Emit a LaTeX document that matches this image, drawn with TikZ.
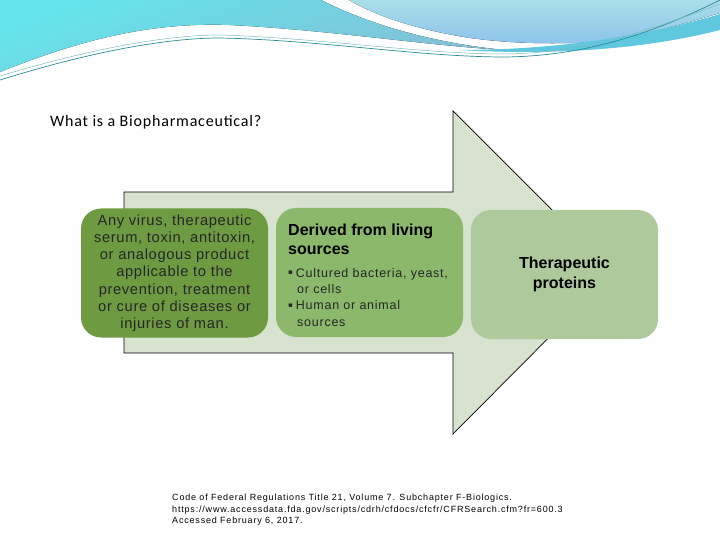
\documentclass[tikz,border=0pt]{standalone}
\usepackage{fontspec}
\setmainfont{Liberation Sans}
\newfontfamily\titlefont[LetterSpace=5]{Carlito}
\newfontfamily\reffont[LetterSpace=9]{Liberation Sans}
\newfontfamily\boxfont[LetterSpace=4.5]{Liberation Sans}
\newfontfamily\bulfont[LetterSpace=6]{Liberation Sans}
\newfontfamily\symfont{DejaVu Sans}
\definecolor{arrowfill}{RGB}{215,227,207}
\definecolor{boxA}{RGB}{110,154,66}
\definecolor{boxB}{RGB}{140,184,108}
\definecolor{boxC}{RGB}{174,202,156}
\definecolor{skyA}{RGB}{132,190,212}
\definecolor{skyB}{RGB}{100,228,236}
\definecolor{skyC}{RGB}{170,222,232}
\definecolor{skyD}{RGB}{140,196,236}
\definecolor{skyE}{RGB}{95,200,222}
\definecolor{wline}{RGB}{40,140,150}
\tikzset{
  gbox/.style={rounded corners=20pt, minimum width=187pt, minimum height=129pt, inner sep=0pt, draw=none},
}
\newcommand{\sqbul}{\raisebox{2.5pt}{\symfont\fontsize{7}{7}\selectfont ▪}}
\begin{document}
\begin{tikzpicture}[x=1pt,y=-1pt]
\useasboundingbox (0,0) rectangle (720,540);
% header waves
\fill[top color=skyA, bottom color=skyB, shading angle=200] (0,0) -- (321,0) .. controls (380,30) and (450,45) .. (505,50)
  .. controls (430,46) and (330,30) .. (230,25) .. controls (150,22) and (80,40) .. (0,72) -- cycle;
\fill[top color=skyC, bottom color=skyD] (349,0) -- (720,0) -- (720,13) .. controls (680,25) and (620,42) .. (574,43)
  .. controls (530,44) and (500,42) .. (470,38) .. controls (420,30) and (380,18) .. (349,0) -- cycle;
\fill[skyE] (459,50) .. controls (560,50) and (650,35) .. (720,14) -- (720,30) .. controls (650,48) and (560,56) .. (459,50) -- cycle;
\draw[wline, line width=0.7pt] (0,80) .. controls (80,55) and (160,38) .. (220,38) .. controls (320,40) and (420,57) .. (505,57)
  .. controls (590,56) and (660,30) .. (720,0);
\draw[wline!60, line width=0.5pt] (0,76) .. controls (80,52) and (160,35) .. (220,35) .. controls (320,38) and (420,54) .. (505,54)
  .. controls (590,53) and (660,26) .. (720,4);
% title
\node[anchor=west, inner sep=0pt, font=\titlefont\fontsize{16}{19}\selectfont] (title) at (50,122) {What is a Biopharmaceutical?};
% arrow
\draw[fill=arrowfill, line width=0.7pt] (124,192) -- (453,192) -- (453,111) -- (614,272) -- (453,434) -- (453,353) -- (124,353) -- cycle;
% boxes
\node[gbox, fill=boxA, align=center, font=\boxfont\fontsize{14.7}{17.2}\selectfont, text=black!85] (b1) at (174.5,273)
  {Any virus, therapeutic\\serum, toxin, antitoxin,\\or analogous product\\applicable to the\\prevention, treatment\\or cure of diseases or\\injuries of man.};
\node[gbox, fill=boxB] (b2) at (369.5,272.5) {};
\node[anchor=north west, inner sep=0pt, align=left, font=\bfseries\fontsize{16}{19.5}\selectfont] (b2t) at (288,223.5) {Derived from living\\sources};
\node[anchor=north west, inner sep=0pt, align=left, font=\bulfont\fontsize{12.5}{16.3}\selectfont, text=black!85] (b2l) at (288,268)
  {\sqbul\hspace{3pt}Cultured bacteria, yeast,\\\hspace{9pt}or cells\\\sqbul\hspace{3pt}Human or animal\\\hspace{9pt}sources};
\node[gbox, fill=boxC, align=center, font=\bfseries\fontsize{16}{20}\selectfont] (b3) at (564.5,274.5) {Therapeutic\\proteins};
% reference
\node[anchor=north west, inner sep=0pt, align=left, font=\reffont\fontsize{9}{11.5}\selectfont] (ref) at (172,494)
  {Code of Federal Regulations Title 21, Volume 7. Subchapter F-Biologics.\\https://www.accessdata.fda.gov/scripts/cdrh/cfdocs/cfcfr/CFRSearch.cfm?fr=600.3\\Accessed February 6, 2017.};
\end{tikzpicture}
\end{document}
